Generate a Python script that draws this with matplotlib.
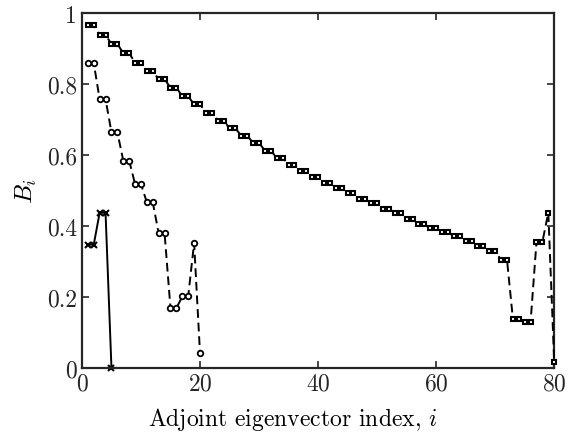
import matplotlib
matplotlib.use("Agg")
import matplotlib.pyplot as plt
import numpy as np

plt.rcParams["font.family"] = "serif"
plt.rcParams["font.serif"] = ["cmr10"]
plt.rcParams["mathtext.fontset"] = "cm"
plt.rcParams["axes.formatter.use_mathtext"] = True

# square series: values come in degenerate pairs for i = 1..72
sq_pairs = [0.965, 0.938, 0.913, 0.887, 0.860, 0.836, 0.813, 0.790, 0.765,
            0.743, 0.719, 0.697, 0.675, 0.654, 0.634, 0.612, 0.592, 0.573,
            0.556, 0.538, 0.521, 0.506, 0.492, 0.477, 0.464, 0.448, 0.436,
            0.420, 0.406, 0.395, 0.383, 0.371, 0.356, 0.342, 0.328, 0.305]
sq_tail = [0.138, 0.138, 0.130, 0.130, 0.355, 0.355, 0.437, 0.017]
sq_vals = list(np.repeat(sq_pairs, 2)) + sq_tail

circ_vals = [0.859, 0.859, 0.757, 0.757, 0.664, 0.664, 0.584, 0.584, 0.518,
             0.518, 0.466, 0.466, 0.379, 0.379, 0.168, 0.168, 0.201, 0.201,
             0.352, 0.041]

cross_vals = [0.347, 0.347, 0.437, 0.437, 0.0]

fig = plt.figure(figsize=(5.69, 4.39), dpi=100)
ax = fig.add_axes([0.144, 0.16, 0.830, 0.808])

ax.plot(np.arange(1, len(sq_vals) + 1), sq_vals, "k--", lw=1.4, marker="s",
        ms=3.2, mfc="white", mec="black", mew=1.5, dashes=(4.5, 2.5),
        clip_on=False, zorder=3)
ax.plot(np.arange(1, len(circ_vals) + 1), circ_vals, "k--", lw=1.4, marker="o",
        ms=4, mfc="white", mec="black", mew=1.3, dashes=(4.5, 2.5))
ax.plot(np.arange(1, len(cross_vals) + 1), cross_vals, "k-", lw=1.4, marker="x",
        ms=4, mec="black", mew=1.5, clip_on=False)

ax.set_xlim(0, 80)
ax.set_ylim(0, 1)
ax.set_xticks([0, 20, 40, 60, 80])
ax.set_yticks([0, 0.2, 0.4, 0.6, 0.8, 1])
ax.set_yticklabels(["0", "0.2", "0.4", "0.6", "0.8", "1"])
ax.tick_params(direction="in", length=5, width=1.2, labelsize=17,
               top=True, right=True, colors="#262626")
for sp in ax.spines.values():
    sp.set_linewidth(1.6)
    sp.set_color("#262626")

ax.set_xlabel("Adjoint eigenvector index, $i$", fontsize=17)
ax.xaxis.set_label_coords(0.447, -0.105)
ax.set_ylabel("$B_i$", fontsize=18, labelpad=6)

fig.savefig("out.png", dpi=100)
